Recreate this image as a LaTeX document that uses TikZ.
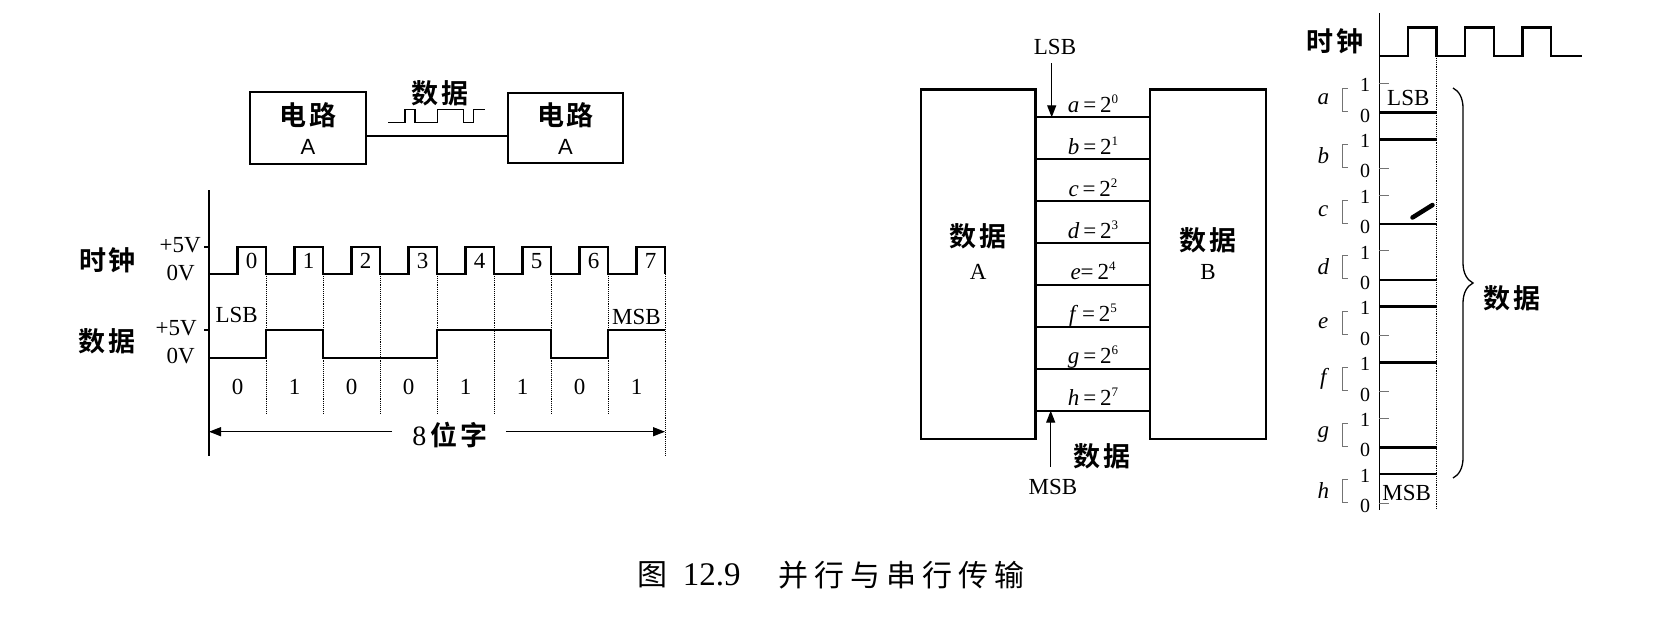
\documentclass[tikz,border=0pt]{standalone}
\usepackage{fontspec}
\setmainfont{Liberation Serif}
\newfontfamily\cjk{Noto Sans CJK SC}[LetterSpace=20]
\newfontfamily\cjkb{Noto Sans CJK SC Bold}[LetterSpace=10]
\newfontfamily\sansf{Liberation Sans}
\usetikzlibrary{arrows.meta,decorations.pathreplacing}
% small raised exponent for the bit weights
\newcommand\supnum[1]{\raisebox{0.85ex}{\fontsize{13}{13}\selectfont #1}}

\begin{document}
\begin{tikzpicture}[x=1pt,y=-1pt,
  lbl/.style={font=\fontsize{23}{26}\selectfont, inner sep=0pt},
  ital/.style={font=\itshape\fontsize{23}{26}\selectfont, inner sep=0pt},
  small/.style={font=\fontsize{20}{22}\selectfont, inner sep=0pt},
  zh/.style={font=\cjkb\fontsize{27}{30}\selectfont, inner sep=0pt},
  capzh/.style={font=\cjk\fontsize{30}{32}\selectfont, inner sep=0pt},
  sanslbl/.style={font=\sansf\fontsize{22}{24}\selectfont, inner sep=0pt},
  wave/.style={line width=2.6pt, line join=miter},
  thinwave/.style={line width=1.3pt, line join=miter},
  boxed/.style={draw, line width=2.6pt, inner sep=0pt},
  link/.style={line width=2.2pt},
  axisline/.style={line width=1.3pt},
  guide/.style={densely dotted, line width=0.9pt},
  tickmark/.style={black!55, line width=1pt},
  arr/.style={line width=1.3pt, -{Triangle[length=12pt,width=9pt]}},
]
\useasboundingbox (0,0) rectangle (1668,616);
\fill[white] (0,0) rectangle (1668,616);

% ---------------- serial link: two circuits ----------------
\node[boxed, minimum width=116pt, minimum height=72pt] (c1) at (308,128) {};
\node[boxed, minimum width=115pt, minimum height=70pt] (c2) at (565.5,128) {};
\node[zh] (c1t) at (308,115) {电路};
\node[sanslbl] (c1l) at (308,147) {A};
\node[zh] (c2t) at (565.5,115) {电路};
\node[sanslbl] (c2l) at (565.5,147) {A};
\coordinate (lk) at (0,136);
\draw[link] (c1.east |- lk) -- (c2.west |- lk);
\node[zh] (sertxt) at (440,93) {数据};
\draw[thinwave] (388.3,122.3) -- (405,122.3) -- (405,109.3) -- (415,109.3) -- (415,122.3)
  -- (437.7,122.3) -- (437.7,109.3) -- (463.3,109.3) -- (463.3,122.3)
  -- (473.3,122.3) -- (473.3,109.3) -- (485,109.3);

% ---------------- serial timing ----------------
\draw[axisline] (209,190) -- (209,456);
\draw[axisline] (204,247) -- (209,247);
\draw[axisline] (204,330) -- (209,330);
\node[zh] (clkL) at (107.5,260) {时钟};
\node[zh] (datL) at (107,341.7) {数据};
\node[lbl, anchor=east] (v5a) at (201,245) {+5V};
\node[lbl, anchor=east] (v0a) at (195,273) {0V};
\node[lbl, anchor=east] (v5b) at (197,328.3) {+5V};
\node[lbl, anchor=east] (v0b) at (195,356) {0V};

% clock
\draw[wave] (209,274) -- (237.5,274) -- (237.5,247) -- (266,247) -- (266,274)
 -- (294.5,274) -- (294.5,247) -- (323,247) -- (323,274)
 -- (351.5,274) -- (351.5,247) -- (380,247) -- (380,274)
 -- (408.5,274) -- (408.5,247) -- (437,247) -- (437,274)
 -- (465.5,274) -- (465.5,247) -- (494,247) -- (494,274)
 -- (522.5,274) -- (522.5,247) -- (551,247) -- (551,274)
 -- (579.5,274) -- (579.5,247) -- (608,247) -- (608,274)
 -- (636.5,274) -- (636.5,247) -- (665,247) -- (665,274);
\foreach \k in {0,...,7}
  \node[lbl] (cn\k) at (251.5+57*\k,261) {\k};

% data word 0 1 0 0 1 1 0 1
\draw[wave] (209,358) -- (266,358) -- (266,330) -- (323,330) -- (323,358)
 -- (437,358) -- (437,330) -- (551,330) -- (551,358) -- (608,358)
 -- (608,330) -- (665,330);
\foreach \k/\b in {0/0,1/1,2/0,3/0,4/1,5/1,6/0,7/1}
  \node[lbl] (bit\k) at (237.5+57*\k,387) {\b};
\node[lbl] (lsbL) at (236.7,315) {LSB};
\node[lbl] (msbL) at (636.5,316.7) {MSB};

% bit cell boundaries
\foreach \k in {1,...,7}
  \draw[guide] (209+57*\k,274) -- (209+57*\k,413);
\draw[guide] (665,274) -- (665,456);

% word length
\coordinate (wl) at (209,431.7);
\coordinate (wr) at (665,431.7);
\node[font=\fontsize{28}{30}\selectfont, inner sep=0pt] (w8) at (450,435) {8\,{\cjkb\fontsize{27}{30}\selectfont 位字}};
\draw[arr] ([xshift=-20pt]w8.west |- wl) -- (wl);
\draw[arr] ([xshift=18pt]w8.east |- wr) -- (wr);

% ---------------- parallel link ----------------
\node[boxed, minimum width=114.5pt, minimum height=349.3pt] (bA) at (978.25,264.15) {};
\node[boxed, minimum width=116pt, minimum height=349.3pt] (bB) at (1208,264.15) {};
\node[zh] (bAt) at (978.25,236.7) {数据};
\node[lbl] (bAl) at (978.25,271.7) {A};
\node[zh] (bBt) at (1208,240) {数据};
\node[lbl] (bBl) at (1208,271.7) {B};
\foreach \k/\n/\e in {0/a/0,1/b/1,2/c/2,3/d/3,5/f/5,6/g/6,7/h/7} {
  \coordinate (L\k) at (0,117.3+41.91*\k);
  \draw[link] (bA.east |- L\k) -- (bB.west |- L\k);
  \node[lbl, anchor=base] (w\k) at (1093,112.3+41.91*\k)
    {\textit{\n}\,=\,2\supnum{\e}};
}
\coordinate (L4) at (0,117.3+41.91*4);
\draw[link] (bA.east |- L4) -- (bB.west |- L4);
\node[lbl, anchor=base] (w4) at (1093,112.3+41.91*4) {\textit{e}=\,2\supnum{4}};

\node[lbl] (lsbR) at (1055,46.7) {LSB};
\draw[arr] ([xshift=-3.3pt,yshift=-8.7pt]lsbR.south) -- ([xshift=-3.3pt]lsbR.south |- L0);
\node[lbl] (msbR) at (1053,486.7) {MSB};
\draw[arr] ([xshift=-2.3pt,yshift=12pt]msbR.north) -- ([xshift=-2.3pt]msbR.north |- L7);
\node[zh] (parD) at (1101.7,456.7) {数据};

% ---------------- parallel timing ----------------
\draw[axisline] (1379.3,13) -- (1379.3,510);
\draw[guide] (1436.5,56) -- (1436.5,510);
\node[zh] (clkR) at (1335,41.7) {时钟};
\draw[wave] (1379.3,56) -- (1408,56) -- (1408,27.3) -- (1436.5,27.3) -- (1436.5,56)
 -- (1465,56) -- (1465,27.3) -- (1494,27.3) -- (1494,56)
 -- (1522.5,56) -- (1522.5,27.3) -- (1551,27.3) -- (1551,56) -- (1581.7,56);

\foreach \k/\b/\n in {0/0/a,1/1/b,2/0/c,3/0/d,4/1/e,5/1/f,6/0/g,7/1/h} {
  \pgfmathsetmacro\yz{112.5+55.8*\k}
  \pgfmathsetmacro\yo{\yz-29}
  \pgfmathsetmacro\yl{\b==1 ? \yo : \yz}
  \pgfmathsetmacro\yt{\b==1 ? \yz : \yo}
  \node[ital] (ln\k) at (1323.3,\yz-13) {\n};
  \draw[tickmark] (1347.5,\yo+5) -- (1342,\yo+5) -- (1342,\yz-1) -- (1347.5,\yz-1);
  \node[small] (one\k) at (1365,\yo+1.5) {1};
  \node[small] (zero\k) at (1365,\yz+3) {0};
  \draw[tickmark] (1379.3,\yt) -- (1389,\yt);
  \draw[wave] (1379.3,\yl) -- (1436.5,\yl);
}
\draw[line width=4.5pt, line cap=round] (1412.5,217.5) -- (1432.5,205);
\node[lbl] (lsbP) at (1408.3,98.3) {LSB};
\node[lbl] (msbP) at (1406.7,493.3) {MSB};
\draw[line width=1.3pt, decorate, decoration={brace, amplitude=20pt}] (1453,88) -- (1453,478);
\node[zh] (parW) at (1511.7,298.3) {数据};

% ---------------- caption ----------------
\node[capzh] (figw) at (652,575) {图};
\node[font=\fontsize{33}{36}\selectfont, inner sep=0pt] (fign) at (711.7,575) {12.9};
\node[capzh] (figt) at (901,575) {并行与串行传输};
\end{tikzpicture}
\end{document}
